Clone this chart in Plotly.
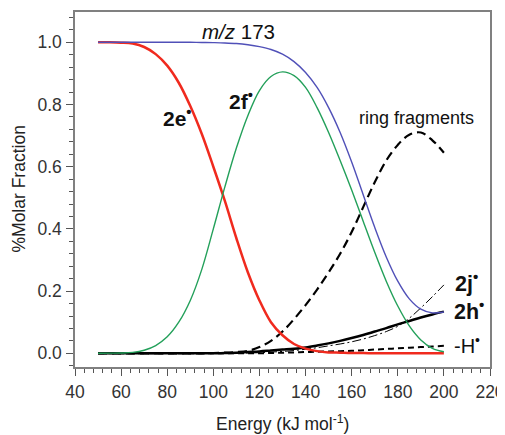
import plotly.graph_objects as go

energy = [50, 55, 60, 65, 70, 75, 80, 85, 90, 95, 100, 105, 110, 115, 120, 125,
          130, 135, 140, 145, 150, 155, 160, 165, 170, 175, 180, 185, 190, 195, 200]

mz173 = [1.0, 1.0, 1.0, 1.0, 1.0, 1.0, 1.0, 1.0, 1.0, 0.9995, 0.999, 0.998, 0.996, 0.992,
         0.986, 0.977, 0.962, 0.938, 0.903, 0.855, 0.79, 0.71, 0.615, 0.51, 0.405, 0.31,
         0.232, 0.175, 0.142, 0.13, 0.133]

e2 = [1.0, 1.0, 0.999, 0.996, 0.985, 0.962, 0.925, 0.87, 0.795, 0.705, 0.6, 0.49, 0.37,
      0.26, 0.17, 0.1, 0.058, 0.03, 0.015, 0.007, 0.003, 0.002, 0.001, 0.001, 0.0, 0.0,
      0.0, 0.0, 0.0, 0.0, 0.0]

f2 = [0.0, 0.0005, 0.001, 0.003, 0.01, 0.025, 0.053, 0.1, 0.17, 0.27, 0.4, 0.535, 0.66,
      0.765, 0.845, 0.89, 0.905, 0.893, 0.855, 0.79, 0.71, 0.62, 0.525, 0.425, 0.325, 0.232,
      0.152, 0.088, 0.043, 0.016, 0.005]

h2 = [0.0, 0.0, 0.0, 0.0, 0.0, 0.0, 0.0, 0.0, 0.0, 0.0, 0.0, 0.001, 0.002, 0.004, 0.006,
      0.009, 0.012, 0.015, 0.019, 0.025, 0.032, 0.04, 0.049, 0.059, 0.07, 0.081, 0.093,
      0.104, 0.115, 0.125, 0.134]

j2 = [0.0, 0.0, 0.0, 0.0, 0.0, 0.0, 0.0, 0.0, 0.0, 0.0, 0.0, 0.0, 0.0, 0.001, 0.002,
      0.004, 0.006, 0.009, 0.013, 0.018, 0.024, 0.03, 0.037, 0.046, 0.057, 0.07, 0.087,
      0.113, 0.146, 0.182, 0.22]

lossH = [0.0, 0.0, 0.0, 0.0, 0.0, 0.0, 0.0, 0.0, 0.0, 0.0, 0.0, 0.0, 0.0, 0.0, 0.0,
         0.001, 0.002, 0.003, 0.004, 0.005, 0.006, 0.007, 0.008, 0.01, 0.012, 0.014, 0.016,
         0.018, 0.02, 0.022, 0.024]

ring = [0.0, 0.0, 0.0, 0.0, 0.0, 0.0, 0.0, 0.0, 0.0, 0.0, 0.001, 0.002, 0.004, 0.008,
        0.02, 0.04, 0.07, 0.11, 0.155, 0.205, 0.26, 0.32, 0.39, 0.47, 0.55, 0.62, 0.67,
        0.703, 0.71, 0.685, 0.645]

fig = go.Figure()

def add(y, color, width, dash="solid"):
    fig.add_trace(go.Scatter(x=energy, y=y, mode="lines",
                             line=dict(color=color, width=width, dash=dash, shape="spline",
                                       smoothing=1.0),
                             showlegend=False, hoverinfo="skip"))

add(lossH, "black", 2, "6px,4px")
add(j2, "black", 1, "9px,3px,2px,3px")
add(h2, "black", 2.5)
add(ring, "black", 2.2, "9px,5px")
add(e2, "#f02a1e", 2.5)
add(f2, "#23a05a", 1.4)
add(mz173, "#5050b8", 1.4)

font_main = "Liberation Sans, Arial, sans-serif"

labels = [
    (111.0, 1.036, "<i>m/z</i> 173", 20.5),
    (84.3, 0.76, "<b>2e<sup>•</sup></b>", 21),
    (112.2, 0.815, "<b>2f<sup>•</sup></b>", 21),
    (188.0, 0.756, "ring fragments", 18),
    (210.0, 0.229, "<b>2j<sup>•</sup></b>", 21.5),
    (211.0, 0.139, "<b>2h<sup>•</sup></b>", 21.5),
    (210.2, 0.027, "-H<sup>•</sup>", 20),
]
for x, y, t, s in labels:
    fig.add_annotation(x=x, y=y, xref="x", yref="y", text=t, showarrow=False,
                       font=dict(size=s, color="#111", family=font_main))

# axis titles
fig.add_annotation(xref="paper", yref="paper", x=0.5, y=0, yshift=-56, yanchor="middle",
                   text="Energy (kJ mol<sup>-1</sup>)", showarrow=False,
                   font=dict(size=17.5, color="#222", family=font_main))
fig.add_annotation(xref="paper", yref="paper", x=0, y=0.5, xshift=-57, xanchor="center",
                   text="%Molar Fraction", textangle=-90, showarrow=False,
                   font=dict(size=17.5, color="#222", family=font_main))

axis_common = dict(
    showline=True, linecolor="#808080", linewidth=1.5, mirror=True,
    ticks="outside", ticklen=7, tickwidth=1.3, tickcolor="#555",
    showgrid=False, zeroline=False, automargin=False,
    tickfont=dict(size=17.5, color="#333", family=font_main),
)

fig.update_xaxes(range=[40, 220], tick0=40, dtick=20, ticklabelstandoff=1,
                 minor=dict(dtick=4, ticks="outside", ticklen=4, tickcolor="#555", tickwidth=1),
                 **axis_common)
fig.update_yaxes(range=[-0.044, 1.0975], tick0=0, dtick=0.2, tickformat=".1f",
                 ticklabelstandoff=1,
                 minor=dict(dtick=0.04, ticks="outside", ticklen=4, tickcolor="#555", tickwidth=1),
                 **axis_common)

# page body has an 8px margin: figure offset by 8px inside the 505x435 window
fig.update_layout(width=497, height=427, margin=dict(l=67, r=15, t=4, b=68),
                  plot_bgcolor="white", paper_bgcolor="white")

fig.write_html("out.html")
